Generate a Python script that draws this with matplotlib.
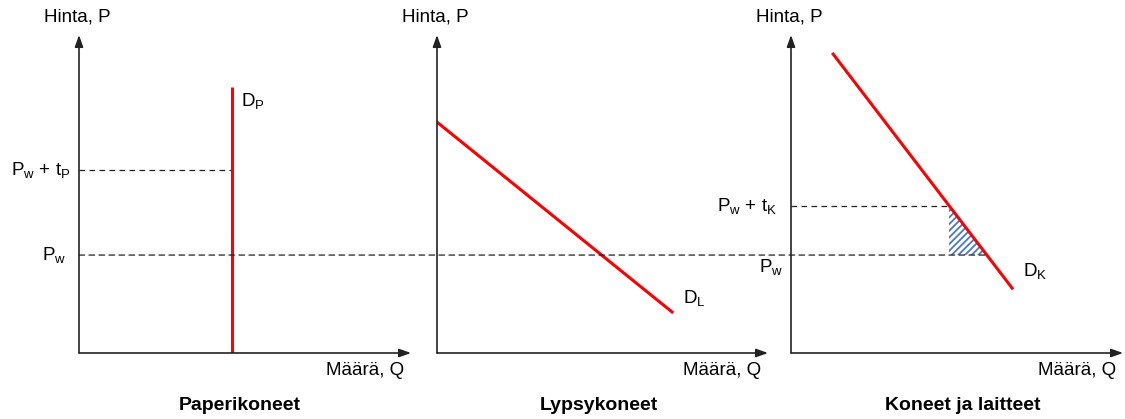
#!/usr/bin/env python3
"""Three-panel sketch of world price, tariff and demand for machine imports."""

import matplotlib
matplotlib.use("Agg")
import matplotlib.pyplot as plt
import numpy as np
from matplotlib.patches import ConnectionPatch

plt.rcParams["font.family"] = ["Liberation Sans", "DejaVu Sans"]
plt.rcParams["mathtext.default"] = "regular"
plt.rcParams["hatch.linewidth"] = 1.3

# shared price scale (0..10 units on the P axis)
PW = 3.08            # world price
PW_TP = 5.75         # world price + tariff, paper machines
PW_TK = 4.62         # world price + tariff, machines & equipment

# demand curves, (Q, P) end points
DP_Q = [4.61, 4.61]
DP_P = [0.0, 8.36]
DL_Q = [0.0, 7.10]
DL_P = [7.26, 1.29]
DK_Q = [1.27, 6.66]
DK_P = [9.40, 2.04]

TITLES = ["Paperikoneet", "Lypsykoneet", "Koneet ja laitteet"]
TITLE_X = [0.485, 0.49, 0.518]
AXIS_LEFT_PX = [79, 437, 791]
AXIS_RIGHT_PX = [411, 768, 1123]

W, H = 1125, 419
ORIGIN_Y_PX = 353
TOP_Y_PX = 35
RED = "#ff0000"
AXIS_COLOR = "#222222"
HATCH_COLOR = "#4a78c8"


def setup_axes(fig, i):
    left = AXIS_LEFT_PX[i] / W
    width = (AXIS_RIGHT_PX[i] - AXIS_LEFT_PX[i]) / W
    bottom = (H - ORIGIN_Y_PX) / H
    height = (ORIGIN_Y_PX - TOP_Y_PX) / H
    ax = fig.add_axes([left, bottom, width, height])
    ax.set_xlim(0, 10)
    ax.set_ylim(0, 10)
    ax.set_axis_off()
    arrow = dict(arrowstyle="-|>,head_length=0.7,head_width=0.25", color=AXIS_COLOR, lw=1.2,
                 shrinkA=0, shrinkB=0)
    ax.annotate("", xy=(1, 0), xytext=(0, 0), xycoords="axes fraction", arrowprops=arrow)
    ax.annotate("", xy=(0, 1), xytext=(0, 0), xycoords="axes fraction", arrowprops=arrow)
    ax.annotate("Hinta, P", xy=(0, 1), xycoords="axes fraction", xytext=(-2, 10),
                textcoords="offset pixels", ha="center", va="bottom", fontsize=13.5)
    ax.annotate("Määrä, Q", xy=(1, 0), xycoords="axes fraction", xytext=(-7, -17),
                textcoords="offset pixels", ha="right", va="center", fontsize=13.5)
    ax.annotate(TITLES[i], xy=(TITLE_X[i], 0), xycoords="axes fraction", xytext=(0, -52),
                textcoords="offset pixels", ha="center", va="center", fontsize=14,
                fontweight="bold")
    return ax


def ylabel(ax, text, y, dy=0, dx=-9):
    ax.annotate(text, xy=(0, y), xycoords=("axes fraction", "data"), xytext=(dx, dy),
                textcoords="offset pixels", ha="right", va="center", fontsize=13.5)


def main():
    fig = plt.figure(figsize=(W / 100, H / 100), dpi=100)
    ax1, ax2, ax3 = [setup_axes(fig, i) for i in range(3)]
    dash = dict(color="#222222", lw=0.9, ls=(0, (4.5, 3.5)))

    # panel 1: paper machines (vertical demand)
    ax1.plot([0, DP_Q[0]], [PW_TP, PW_TP], **dash)
    ax1.plot(DP_Q, DP_P, color=RED, lw=2.2, solid_capstyle="butt")
    ax1.annotate("D$_P$", xy=(DP_Q[1], DP_P[1]), xytext=(9, -14), textcoords="offset pixels",
                 ha="left", va="center", fontsize=13.5)
    ylabel(ax1, "P$_w$ + t$_P$", PW_TP, dx=-8)
    ylabel(ax1, "P$_w$", PW, dx=-13)

    # panel 2: milking machines
    ax2.plot(DL_Q, DL_P, color=RED, lw=2.2)
    ax2.annotate("D$_L$", xy=(DL_Q[1], DL_P[1]), xytext=(11, 14), textcoords="offset pixels",
                 ha="left", va="center", fontsize=13.5)

    # panel 3: machines and equipment, tariff triangle
    q_hi = np.interp(PW_TK, DK_P[::-1], DK_Q[::-1])
    q_lo = np.interp(PW, DK_P[::-1], DK_Q[::-1])
    ax3.fill([q_hi, q_hi, q_lo], [PW_TK, PW, PW], facecolor="white", edgecolor=HATCH_COLOR,
             hatch="/////", lw=0)
    ax3.plot([0, q_hi], [PW_TK, PW_TK], **dash)
    ax3.plot(DK_Q, DK_P, color=RED, lw=2.2)
    ax3.annotate("D$_K$", xy=(DK_Q[1], DK_P[1]), xytext=(11, 17), textcoords="offset pixels",
                 ha="left", va="center", fontsize=13.5)
    ylabel(ax3, "P$_w$ + t$_K$", PW_TK, dx=-14)
    ylabel(ax3, "P$_w$", PW, dy=-12, dx=-8)

    # world price line runs across all three panels
    con = ConnectionPatch(xyA=(0, PW), coordsA=ax1.transData, xyB=(q_lo, PW),
                          coordsB=ax3.transData, color="#222222", lw=0.9, ls=(0, (4.5, 3.5)))
    fig.add_artist(con)

    fig.savefig("out.png", dpi=100)


if __name__ == "__main__":
    main()
